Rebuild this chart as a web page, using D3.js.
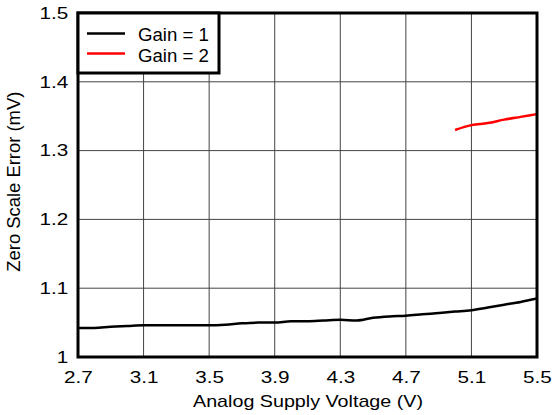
<!DOCTYPE html>
<html><head><meta charset="utf-8">
<script src="https://cdn.jsdelivr.net/npm/d3@7"></script>
<style>body{margin:0;background:#fff}svg{display:block}text{font-family:"Liberation Sans",Arial,sans-serif}</style>
</head><body>
<svg id="c" width="553" height="415"></svg>
<script>
const voltage1 = [2.7,2.8,2.9,3.0,3.1,3.2,3.3,3.4,3.5,3.6,3.7,3.8,3.9,4.0,4.1,4.2,4.3,4.4,4.5,4.6,4.7,4.8,4.9,5.0,5.1,5.2,5.3,5.4,5.5];
const gain1 = [1.042,1.042,1.044,1.045,1.046,1.046,1.046,1.046,1.046,1.047,1.049,1.050,1.050,1.052,1.052,1.053,1.054,1.053,1.057,1.059,1.060,1.062,1.064,1.066,1.068,1.072,1.076,1.080,1.085];
const voltage2 = [5.0,5.1,5.2,5.3,5.4,5.5];
const gain2 = [1.330,1.337,1.340,1.345,1.349,1.353];
const xTicks = [2.7,3.1,3.5,3.9,4.3,4.7,5.1,5.5];
const yTicks = [1,1.1,1.2,1.3,1.4,1.5];
const yTickLabels = ["1","1.1","1.2","1.3","1.4","1.5"];
const seriesNames = ["Gain = 1","Gain = 2"];
const seriesColors = ["#000000","#ff0000"];

const svg = d3.select("#c");
const L=78,R=537,T=13,B=357;
const SX = 1.27;
const x = d3.scaleLinear().domain([2.7,5.5]).range([L,R]);
const y = d3.scaleLinear().domain([1,1.5]).range([B,T]);

// grid
svg.append("g").selectAll("line").data(xTicks.slice(1,-1)).join("line")
  .attr("x1",d=>x(d)).attr("x2",d=>x(d)).attr("y1",T).attr("y2",B)
  .attr("stroke","#444").attr("stroke-width",1);
svg.append("g").selectAll("line").data(yTicks.slice(1,-1)).join("line")
  .attr("y1",d=>y(d)).attr("y2",d=>y(d)).attr("x1",L).attr("x2",R)
  .attr("stroke","#444").attr("stroke-width",1);

// axes labels
const xa = svg.append("g").attr("transform",`translate(0,${B})`)
  .call(d3.axisBottom(x).tickValues(xTicks).tickSize(0).tickFormat(d3.format(".1f")));
xa.select(".domain").remove();
xa.selectAll("text").attr("font-size",16.3).attr("fill","#000").attr("y",26.3).attr("dy",null)
  .attr("transform",`scale(${SX},1)`).style("font-family","'Liberation Sans',Arial,sans-serif");
const ya = svg.append("g").attr("transform",`translate(${L},0)`)
  .call(d3.axisLeft(y).tickValues(yTicks).tickSize(0).tickFormat((d,i)=>yTickLabels[i]));
ya.select(".domain").remove();
ya.selectAll("text").attr("font-size",16.3).attr("fill","#000").attr("x",-9.7/SX)
  .attr("transform",`scale(${SX},1)`).style("font-family","'Liberation Sans',Arial,sans-serif");

// lines
const line = d3.line().x(d=>x(d[0])).y(d=>y(d[1])).curve(d3.curveMonotoneX);
svg.append("path").datum(voltage1.map((v,i)=>[v,gain1[i]])).attr("d",line)
  .attr("fill","none").attr("stroke",seriesColors[0]).attr("stroke-width",2.5);
svg.append("path").datum(voltage2.map((v,i)=>[v,gain2[i]])).attr("d",line)
  .attr("fill","none").attr("stroke",seriesColors[1]).attr("stroke-width",2.5);

// frame
svg.append("rect").attr("x",L).attr("y",T).attr("width",R-L).attr("height",B-T)
  .attr("fill","none").attr("stroke","#000").attr("stroke-width",3);

// legend
const lg = svg.append("g");
lg.append("rect").attr("x",L).attr("y",T).attr("width",141).attr("height",60)
  .attr("fill","#fff").attr("stroke","#000").attr("stroke-width",3);
seriesNames.forEach((n,i)=>{
  const yy = 33.5 + i*20;
  lg.append("line").attr("x1",87).attr("x2",125).attr("y1",yy).attr("y2",yy)
    .attr("stroke",seriesColors[i]).attr("stroke-width",2.5);
  lg.append("text").attr("x",138).attr("y",40.5 + i*21).attr("font-size",17.5)
    .attr("textLength",71).attr("lengthAdjust","spacingAndGlyphs").text(n);
});

// titles
svg.append("text").attr("x",308).attr("y",406.5).attr("text-anchor","middle")
  .attr("font-size",17).attr("textLength",230).attr("lengthAdjust","spacingAndGlyphs")
  .text("Analog Supply Voltage (V)");
svg.append("text").attr("transform",`translate(20,181.7) rotate(-90)`).attr("text-anchor","middle")
  .attr("font-size",18).attr("textLength",180).attr("lengthAdjust","spacingAndGlyphs")
  .text("Zero Scale Error (mV)");
</script>
</body></html>
